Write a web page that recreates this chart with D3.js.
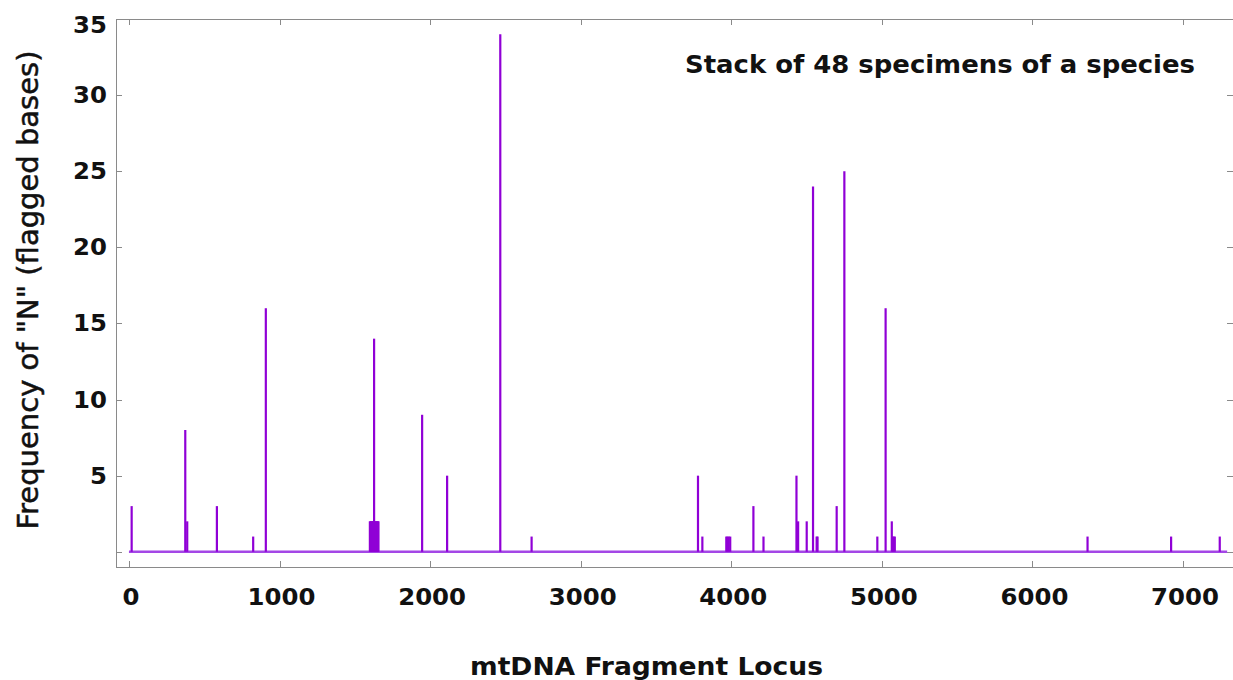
<!DOCTYPE html>
<html>
<head>
<meta charset="utf-8">
<script src="https://cdn.jsdelivr.net/npm/d3@7"></script>
<style>
  html, body { margin: 0; padding: 0; background: #fff; }
  svg { display: block; }
  text { font-family: "DejaVu Sans", sans-serif; fill: #111; }
</style>
</head>
<body>
<svg id="chart" width="1233" height="680"></svg>
<script>
// Positions (bp) along the mtDNA fragment where bases were flagged "N"
const loci = [18, 374, 387, 584, 825, 909,
  1600, 1604, 1609, 1613, 1617, 1621, 1625, 1628, 1632, 1636, 1640, 1645, 1649, 1653, 1657,
  1947, 2113, 2466, 2674, 3779, 3808, 3967, 3975, 3983, 3993, 4147, 4214,
  4433, 4444, 4501, 4543, 4567, 4573, 4700, 4751, 4970, 5025, 5066, 5072, 5078, 5086,
  6366, 6921, 7244];
// Number of the 48 stacked specimens with an "N" at each locus
const counts = [3, 8, 2, 3, 1, 16,
  2, 2, 2, 2, 2, 2, 2, 14, 2, 2, 2, 2, 2, 2, 2,
  9, 5, 34, 1, 5, 1, 1, 1, 1, 1, 3, 1,
  5, 2, 2, 24, 1, 1, 3, 25, 1, 16, 2, 1, 1, 1,
  1, 1, 1];
// Span of the aligned fragment
const fragmentSpan = [0, 7293];
const xTicks = [0, 1000, 2000, 3000, 4000, 5000, 6000, 7000];
const yTicks = [0, 5, 10, 15, 20, 25, 30, 35];
const yTickLabels = ["", "5", "10", "15", "20", "25", "30", "35"];

const plot = { left: 116, top: 19, right: 1233, bottom: 567 };
const svg = d3.select("#chart");

const x = d3.scaleLinear().domain([-86, 7332]).range([plot.left, plot.right]);
const y = d3.scaleLinear().domain([-1, 35]).range([plot.bottom, plot.top]);

const stroke = "#9000d6";
const frameColor = "#8a8a8a";
const tickFontSize = 23;
const tickStretch = 1.06;

// Text drawn slightly wide, stretched horizontally about its anchor
function label(g, px, py, txt, opts) {
  return g.append("text")
    .attr("transform", `translate(${px},${py}) scale(${opts.sx || 1},1)`)
    .attr("text-anchor", opts.anchor || "start")
    .attr("font-size", opts.size)
    .attr("font-weight", opts.weight || "normal")
    .text(txt);
}

// Frame
svg.append("rect")
  .attr("x", plot.left + 0.5).attr("y", plot.top + 0.5)
  .attr("width", plot.right - plot.left).attr("height", plot.bottom - plot.top)
  .attr("fill", "none").attr("stroke", frameColor).attr("stroke-width", 1);

// Inward ticks on all four sides
const tickLen = 6;
const xt = svg.append("g");
xTicks.forEach(v => {
  const px = Math.round(x(v)) + 0.5;
  xt.append("line").attr("x1", px).attr("x2", px)
    .attr("y1", plot.bottom).attr("y2", plot.bottom - tickLen)
    .attr("stroke", frameColor);
  xt.append("line").attr("x1", px).attr("x2", px)
    .attr("y1", plot.top).attr("y2", plot.top + tickLen)
    .attr("stroke", frameColor);
  label(xt, x(v) + 2, 605, d3.format("d")(v),
    { anchor: "middle", size: tickFontSize, weight: "bold", sx: tickStretch });
});
const yt = svg.append("g");
yTicks.forEach((v, i) => {
  const py = Math.round(y(v)) + 0.5;
  yt.append("line").attr("x1", plot.left).attr("x2", plot.left + tickLen)
    .attr("y1", py).attr("y2", py).attr("stroke", frameColor);
  yt.append("line").attr("x1", plot.right).attr("x2", plot.right - tickLen)
    .attr("y1", py).attr("y2", py).attr("stroke", frameColor);
  // the top label sits a little lower so it stays inside the page
  const dy = v === 35 ? 14 : 8;
  label(yt, 107, y(v) + dy, yTickLabels[i],
    { anchor: "end", size: tickFontSize, weight: "bold", sx: tickStretch });
});

// Zero line across the fragment
svg.append("line")
  .attr("x1", x(fragmentSpan[0])).attr("x2", x(fragmentSpan[1]))
  .attr("y1", y(0)).attr("y2", y(0))
  .attr("stroke", "#a447e6").attr("stroke-width", 2.4);

// Impulses
svg.append("g").selectAll("line")
  .data(loci.map((l, i) => ({ locus: l, n: counts[i] })))
  .join("line")
  .attr("x1", d => x(d.locus)).attr("x2", d => x(d.locus))
  .attr("y1", y(0)).attr("y2", d => y(d.n))
  .attr("stroke", stroke).attr("stroke-width", 2.2);

// Title inside the plot
svg.append("text").attr("x", 685).attr("y", 73)
  .attr("font-size", 24).attr("font-weight", "bold")
  .attr("textLength", 510).attr("lengthAdjust", "spacingAndGlyphs")
  .text("Stack of 48 specimens of a species");

// Axis titles
svg.append("text").attr("x", 470).attr("y", 675)
  .attr("font-size", 24).attr("font-weight", "bold")
  .attr("textLength", 353).attr("lengthAdjust", "spacingAndGlyphs")
  .text("mtDNA Fragment Locus");
svg.append("text")
  .attr("transform", "translate(38,290) rotate(-90)")
  .attr("text-anchor", "middle").attr("font-size", 29)
  .attr("stroke", "#111").attr("stroke-width", 0.5)
  .text('Frequency of "N" (flagged bases)');
</script>
</body>
</html>
